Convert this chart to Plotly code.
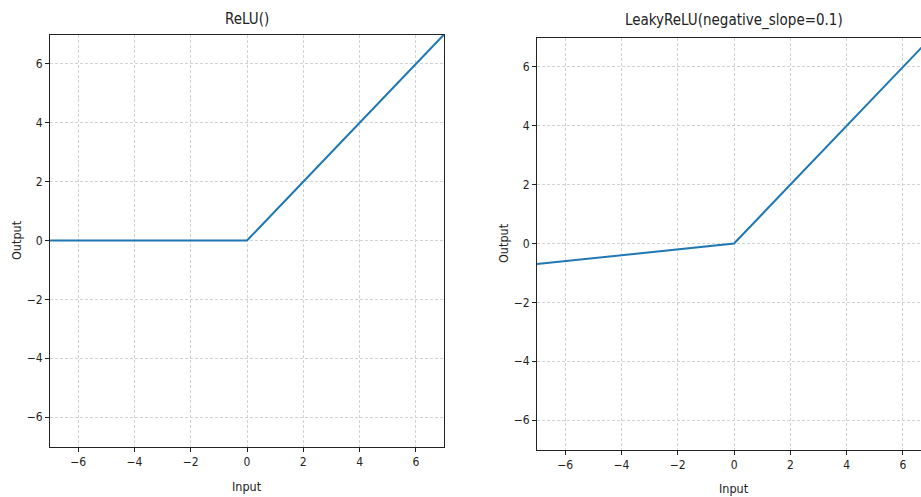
import plotly.graph_objects as go

x_input = [-7, 0, 7]
relu_out = [0, 0, 7]
leaky_out = [-0.7, 0, 7]
tick_vals = [-6, -4, -2, 0, 2, 4, 6]
tick_text = ["\u22126", "\u22124", "\u22122", "0", "2", "4", "6"]
titles = ["ReLU()", "LeakyReLU(negative_slope=0.1)"]

W, H = 921, 497
FONT = "DejaVu Sans Condensed, DejaVu Sans, sans-serif"
LINE = "#1f77b4"

fig = go.Figure()
fig.add_trace(go.Scatter(x=x_input, y=relu_out, mode="lines",
                         line=dict(color=LINE, width=2), xaxis="x", yaxis="y", showlegend=False))
fig.add_trace(go.Scatter(x=x_input, y=leaky_out, mode="lines",
                         line=dict(color=LINE, width=2), xaxis="x2", yaxis="y2", showlegend=False))

def fx(p):
    return p / W

def fy(p):
    return 1 - p / H

def ax(**kw):
    d = dict(tickvals=tick_vals, ticktext=tick_text, ticks="outside", ticklen=4,
             tickcolor="#222", tickwidth=1, showline=True, linecolor="#222", linewidth=1,
             showgrid=True, gridcolor="#d2d2d2", griddash="3px,2px", gridwidth=1,
             zeroline=False, tickfont=dict(family=FONT, size=12, color="#222"))
    d.update(kw)
    return d

fig.update_layout(
    width=W, height=H, margin=dict(l=0, r=0, t=0, b=0),
    plot_bgcolor="white", paper_bgcolor="white",
    xaxis=ax(domain=[fx(50), fx(444)], range=[-7, 7], anchor="y", mirror=True),
    yaxis=ax(domain=[fy(446.5), fy(34.5)], range=[-7, 7], anchor="x", mirror=True),
    xaxis2=ax(domain=[fx(537), 1.0], range=[-7, 6.64], anchor="y2", mirror=True),
    yaxis2=ax(domain=[fy(449.5), fy(37.5)], range=[-7, 7], anchor="x2", mirror=False),
)

def px_ann(text, x, y, size, angle=0):
    fig.add_annotation(text=text, x=fx(x), y=fy(y), xref="paper", yref="paper",
                       showarrow=False, textangle=angle, xanchor="center", yanchor="middle",
                       font=dict(family=FONT, size=size, color="#222"))

px_ann(titles[0], 247, 19, 15)
px_ann(titles[1], 734, 21, 15)
px_ann("Input", 247, 486, 12.5)
px_ann("Input", 734, 488, 12.5)
px_ann("Output", 16, 240, 12.5, -90)
px_ann("Output", 503, 243, 12.5, -90)

fig.write_html("out.html", config={"displayModeBar": False},
               post_script="document.body.style.margin='0';document.body.style.overflow='hidden';")
